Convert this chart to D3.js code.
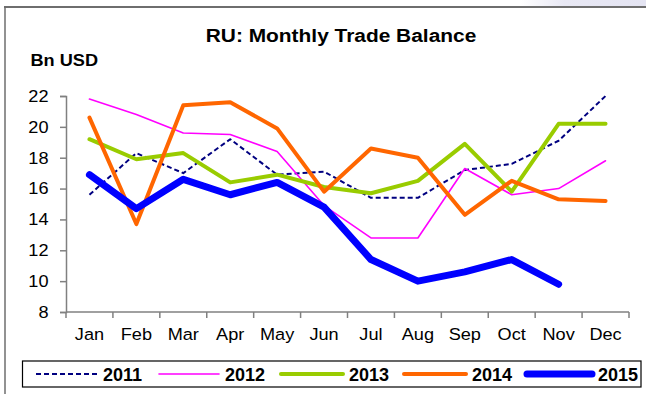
<!DOCTYPE html>
<html>
<head>
<meta charset="utf-8">
<script src="https://cdn.jsdelivr.net/npm/d3@7"></script>
<style>
  html, body { margin: 0; padding: 0; background: #ffffff; }
  svg { display: block; font-family: Arial, "Liberation Sans", sans-serif; }
</style>
</head>
<body>
<svg id="chart" width="646" height="394"></svg>
<script>
// Monthly trade balance, billions of USD
const months = ["Jan","Feb","Mar","Apr","May","Jun","Jul","Aug","Sep","Oct","Nov","Dec"];
const yTicks = [8, 10, 12, 14, 16, 18, 20, 22];
const years = ["2011", "2012", "2013", "2014", "2015"];

const v2011 = [15.6, 18.3, 17.0, 19.2, 16.9, 17.1, 15.4, 15.4, 17.2, 17.6, 19.1, 22.0];
const v2012 = [21.8, 20.8, 19.6, 19.5, 18.4, 14.9, 12.8, 12.8, 17.3, 15.6, 16.0, 17.8];
const v2013 = [19.2, 17.9, 18.3, 16.4, 16.9, 16.1, 15.7, 16.5, 18.9, 15.8, 20.2, 20.2];
const v2014 = [20.6, 13.7, 21.4, 21.6, 19.9, 15.8, 18.6, 18.0, 14.3, 16.5, 15.3, 15.2];
const v2015 = [16.9, 14.7, 16.6, 15.6, 16.4, 14.8, 11.4, 10.0, 10.6, 11.4, 9.8];

const seriesValues = [v2011, v2012, v2013, v2014, v2015];
const seriesStyle = [
  { color: "#000080", width: 2,   dash: "5,3" },
  { color: "#ff00ff", width: 1.6, dash: null },
  { color: "#99cc00", width: 4,   dash: null },
  { color: "#ff6600", width: 4,   dash: null },
  { color: "#0000ff", width: 7,   dash: null }
];

const svg = d3.select("#chart");
const plot = { left: 66, right: 629, top: 96, bottom: 312 };
const STRETCH = 1.1; // slightly wide lettering

// text helper: positioned by translate, widened horizontally
function label(parent, x, y, str, size, opts = {}) {
  return parent.append("text")
    .attr("transform", `translate(${x},${y}) scale(${opts.stretch ?? STRETCH},1)`)
    .attr("text-anchor", opts.anchor || "start")
    .attr("font-weight", opts.bold ? "bold" : "normal")
    .attr("font-size", size)
    .attr("fill", "#000")
    .text(str);
}

// light header band in the top-right corner
const grad = svg.append("defs").append("linearGradient")
  .attr("id", "hdr").attr("x1", "0").attr("x2", "1").attr("y1", "0").attr("y2", "0");
grad.append("stop").attr("offset", "0").attr("stop-color", "#ffffff");
grad.append("stop").attr("offset", "0.35").attr("stop-color", "#e8e8f4");
grad.append("stop").attr("offset", "1").attr("stop-color", "#e4e4f2");
svg.append("rect").attr("x", 520).attr("y", 0).attr("width", 126).attr("height", 7)
  .attr("fill", "url(#hdr)");

// frame: top and left edges
svg.append("line").attr("x1", 4).attr("x2", 646).attr("y1", 7).attr("y2", 7)
  .attr("stroke", "#6e6e6e").attr("stroke-width", 2);
svg.append("line").attr("x1", 5).attr("x2", 5).attr("y1", 7).attr("y2", 394)
  .attr("stroke", "#6e6e6e").attr("stroke-width", 1.5);

const x = d3.scaleBand().domain(months).range([plot.left, plot.right]).padding(0);
const y = d3.scaleLinear().domain([8, 22]).range([plot.bottom, plot.top]);

// title and unit label
label(svg, 341, 42.3, "RU: Monthly Trade Balance", 19, { anchor: "middle", bold: true });
label(svg, 30.5, 66, "Bn USD", 16.5, { bold: true });

// y axis (line and ticks from d3, labels widened separately)
const yAxis = svg.append("g").attr("transform", `translate(${plot.left},0)`)
  .call(d3.axisLeft(y).tickValues(yTicks).tickSize(6).tickFormat(""));
yAxis.select(".domain").attr("stroke", "#808080").attr("stroke-width", 1.5);
yAxis.selectAll(".tick line").attr("stroke", "#808080").attr("stroke-width", 1.5);
yTicks.forEach(t => {
  label(svg, 48.5, y(t) + 5.8, String(t), 16.5, { anchor: "end" });
});

// x axis: ticks at category boundaries, labels at band centres
const xAxisG = svg.append("g").attr("transform", `translate(0,${plot.bottom})`);
xAxisG.append("line").attr("x1", plot.left).attr("x2", plot.right)
  .attr("stroke", "#808080").attr("stroke-width", 1.5);
const bounds = months.map(m => x(m)).concat([x(months[months.length - 1]) + x.bandwidth()]);
xAxisG.selectAll("line.tk").data(bounds).enter().append("line").attr("class", "tk")
  .attr("x1", d => d).attr("x2", d => d).attr("y1", 0).attr("y2", 6)
  .attr("stroke", "#808080").attr("stroke-width", 1.5);
months.forEach(m => {
  label(xAxisG, x(m) + x.bandwidth() / 2, 27.5, m, 16.5, { anchor: "middle" });
});

// series lines
const line = d3.line()
  .x((d, i) => x(months[i]) + x.bandwidth() / 2)
  .y(d => y(d));

seriesValues.forEach((vals, k) => {
  const s = seriesStyle[k];
  svg.append("path").datum(vals)
    .attr("d", line)
    .attr("fill", "none")
    .attr("stroke", s.color)
    .attr("stroke-width", s.width)
    .attr("stroke-linejoin", "round")
    .attr("stroke-linecap", s.dash ? "butt" : "round")
    .attr("stroke-dasharray", s.dash);
});

// legend
const legend = svg.append("g");
legend.append("rect").attr("x", 22.5).attr("y", 361).attr("width", 618.5).attr("height", 26)
  .attr("fill", "#fff").attr("stroke", "#000").attr("stroke-width", 1.2);
const legX = [36, 159, 281, 404, 527];
const legLen = [61, 60, 62, 62, 65];
years.forEach((yr, k) => {
  const s = seriesStyle[k];
  legend.append("line")
    .attr("x1", legX[k]).attr("x2", legX[k] + legLen[k])
    .attr("y1", 374).attr("y2", 374)
    .attr("stroke", s.color).attr("stroke-width", s.width)
    .attr("stroke-linecap", s.dash ? "butt" : "round")
    .attr("stroke-dasharray", s.dash);
  label(legend, legX[k] + legLen[k] + 6, 380.5, yr, 18, { bold: true, stretch: 1.0 });
});
</script>
</body>
</html>
